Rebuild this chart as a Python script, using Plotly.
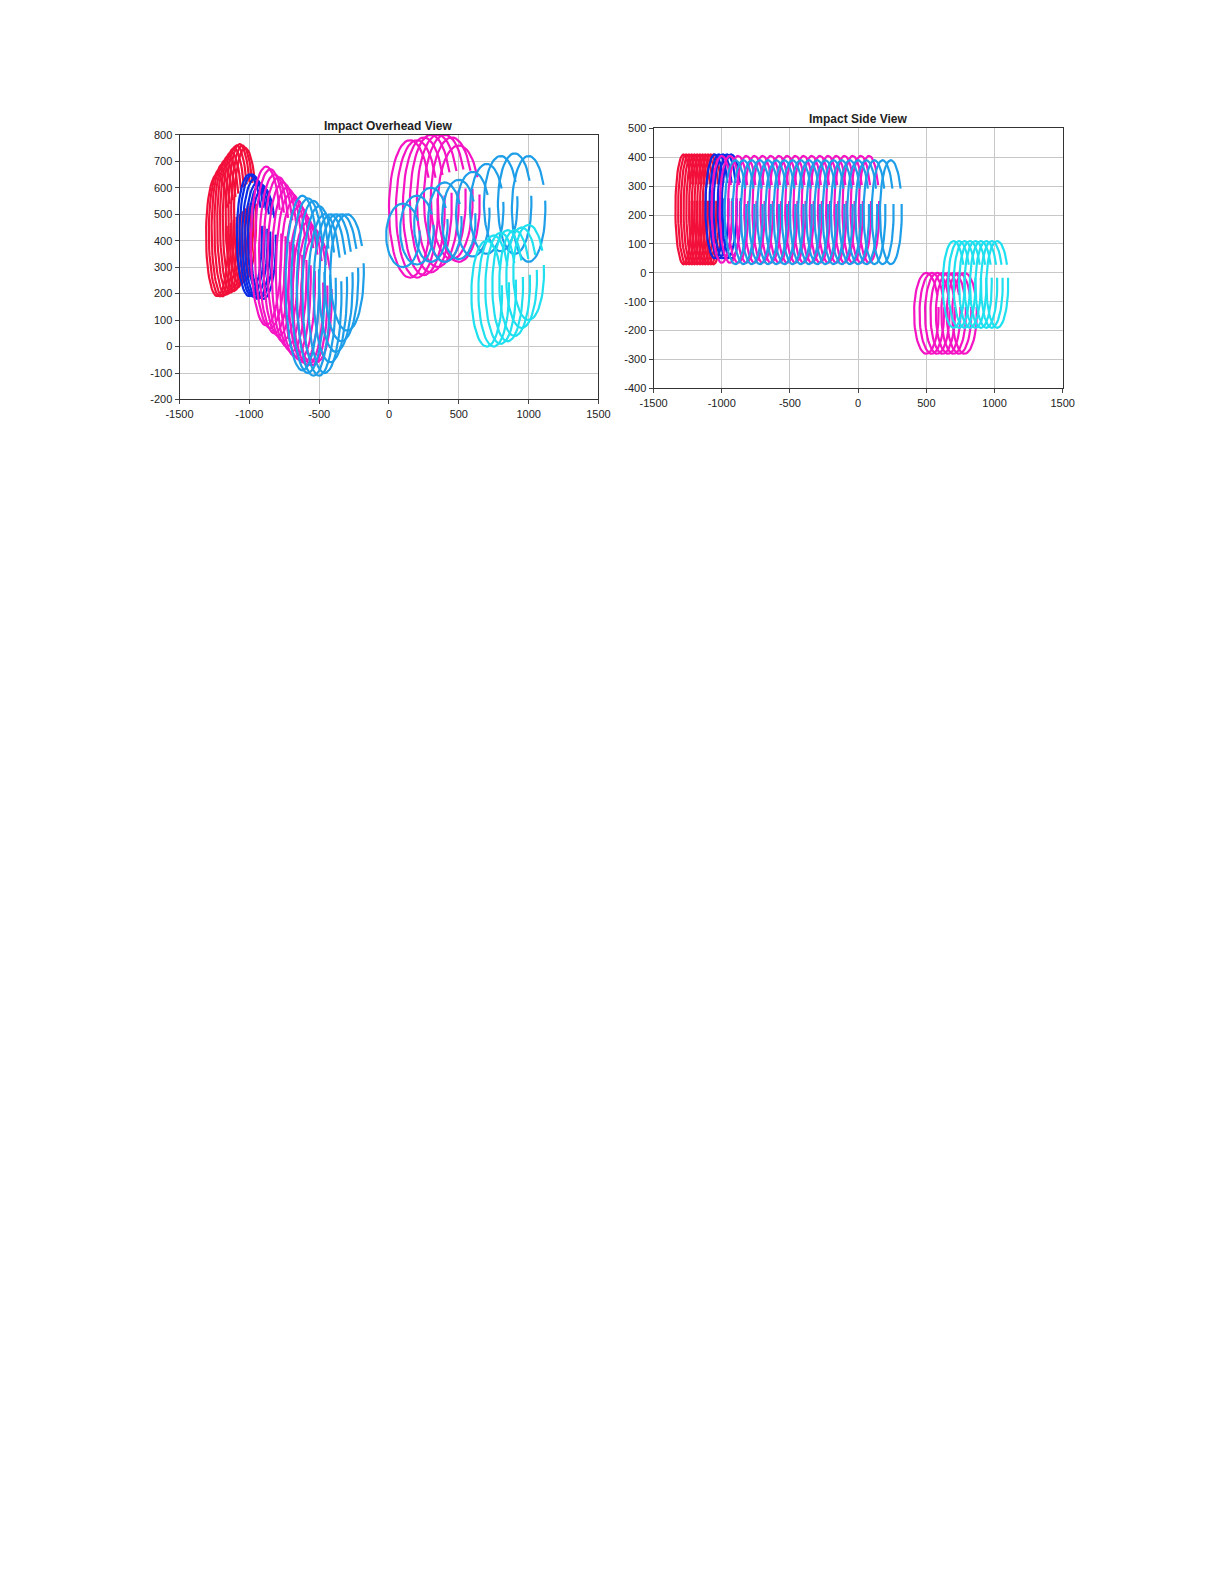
import numpy as np
import plotly.graph_objects as go

# Overhead view loops: centre x, centre y, half-width, half-height, colour group
top_cx = [-1230,-1210,-1190,-1170,-1150,-1130,-1110,-1090,-1070,-1050,-1030,
          -1000,-980,-960,-940,-920,-900,
          -880,-850,-820,-790,-760,-730,-700,-670,-640,-610,-580,-550,-520,
          -620,-580,-540,-500,-460,-420,-380,-340,-300,
          150,200,250,300,350,400,450,500,
          100,200,300,400,500,600,700,800,900,1000,
          700,750,800,850,900,950,1000]
top_cy = [420,430,440,450,460,470,480,490,500,500,500,
          420,420,410,400,400,390,
          380,370,350,340,320,300,280,260,240,220,200,190,180,
          240,230,220,210,200,220,240,260,280,
          520,520,530,540,550,560,560,540,
          420,440,460,470,480,500,520,540,540,520,
          200,210,220,230,240,260,280]
top_rx = [80]*11 + [90]*6 + [110]*13 + [120]*9 + [150]*8 + [120]*10 + [110]*7
top_ry = [230,240,250,255,260,265,270,270,265,260,250,
          230,230,225,220,215,210,
          300,300,300,300,300,300,300,300,290,280,270,260,240,
          330,330,330,320,300,280,260,240,220,
          260,260,260,260,250,240,230,220,
          120,130,140,150,150,160,170,180,190,200,
          200,210,210,210,200,190,180]
top_col = [0]*11 + [1]*6 + [3]*13 + [2]*9 + [3]*8 + [2]*10 + [4]*7

# Side view loops: centre x, centre z, half-width, half-height, colour group
side_cx = [-1280,-1260,-1240,-1220,-1200,-1180,-1160,-1140,-1120,-1100,-1080,-1060,
           -1050,-1020,-990,-960,-930,
           -1000,-940,-880,-820,-760,-700,-640,-580,-520,-460,-400,-340,-280,-220,-160,-100,-40,20,80,
           -900,-840,-780,-720,-660,-600,-540,-480,-420,-360,-300,-240,-180,-120,-60,0,60,120,180,240,
           500,540,580,620,660,700,740,780,
           700,740,780,820,860,900,940,980,1020]
side_cz = [220]*12 + [230]*5 + [220]*19 + [210]*20 + [-140]*8 + [-40]*9
side_rx = [60]*12 + [70]*5 + [75]*19 + [80]*20 + [90]*8 + [80]*9
side_rz = [190]*12 + [180]*5 + [185]*19 + [180]*20 + [140]*8 + [150]*9
side_col = [0]*12 + [1]*5 + [3]*19 + [2]*20 + [3]*8 + [4]*9

x_ticks = [-1500, -1000, -500, 0, 500, 1000, 1500]
y1_ticks = [-200, -100, 0, 100, 200, 300, 400, 500, 600, 700, 800]
y2_ticks = [-400, -300, -200, -100, 0, 100, 200, 300, 400, 500]

colors = ['#f2103a', '#0a2ce6', '#1e9ee8', '#f514c4', '#20e0f0']

t = np.linspace(0.15*np.pi, 2.05*np.pi, 60)
fig = go.Figure()
for cx, cy, rx, ry, c in zip(top_cx, top_cy, top_rx, top_ry, top_col):
    fig.add_trace(go.Scatter(x=cx+rx*np.cos(t), y=cy+ry*np.sin(t), mode='lines',
                             line=dict(color=colors[c], width=2.2), showlegend=False,
                             xaxis='x', yaxis='y', hoverinfo='skip'))
for cx, cz, rx, rz, c in zip(side_cx, side_cz, side_rx, side_rz, side_col):
    fig.add_trace(go.Scatter(x=cx+rx*np.cos(t), y=cz+rz*np.sin(t), mode='lines',
                             line=dict(color=colors[c], width=2.2), showlegend=False,
                             xaxis='x2', yaxis='y2', hoverinfo='skip'))

ax = dict(showgrid=True, gridcolor='#c8c8c8', linecolor='#333', mirror=True, showline=True,
          ticks='outside', ticklen=4, zeroline=False, automargin=False,
          tickfont=dict(size=11, color='#222'))
lab = lambda v: [str(i) for i in v]
fig.update_layout(
    width=1225, height=1585, autosize=False, margin=dict(l=0, r=0, t=0, b=0),
    paper_bgcolor='white', plot_bgcolor='white', font=dict(family='Liberation Sans'),
    xaxis=dict(ax, domain=[0.140, 0.482], range=[-1500, 1500], tickvals=x_ticks, ticktext=lab(x_ticks)),
    yaxis=dict(ax, domain=[0.753, 0.920], range=[-200, 800], tickvals=y1_ticks, ticktext=lab(y1_ticks)),
    xaxis2=dict(ax, domain=[0.527, 0.861], range=[-1500, 1500], tickvals=x_ticks, ticktext=lab(x_ticks), anchor='y2'),
    yaxis2=dict(ax, domain=[0.760, 0.924], range=[-400, 500], tickvals=y2_ticks, ticktext=lab(y2_ticks), anchor='x2'),
    annotations=[
        dict(text='<b>Impact Overhead View</b>', x=0.311, y=0.920, xref='paper', yref='paper',
             xanchor='center', yanchor='bottom', showarrow=False, font=dict(size=12, color='#222')),
        dict(text='<b>Impact Side View</b>', x=0.694, y=0.924, xref='paper', yref='paper',
             xanchor='center', yanchor='bottom', showarrow=False, font=dict(size=12, color='#222')),
    ])
fig.write_html('out.html')
